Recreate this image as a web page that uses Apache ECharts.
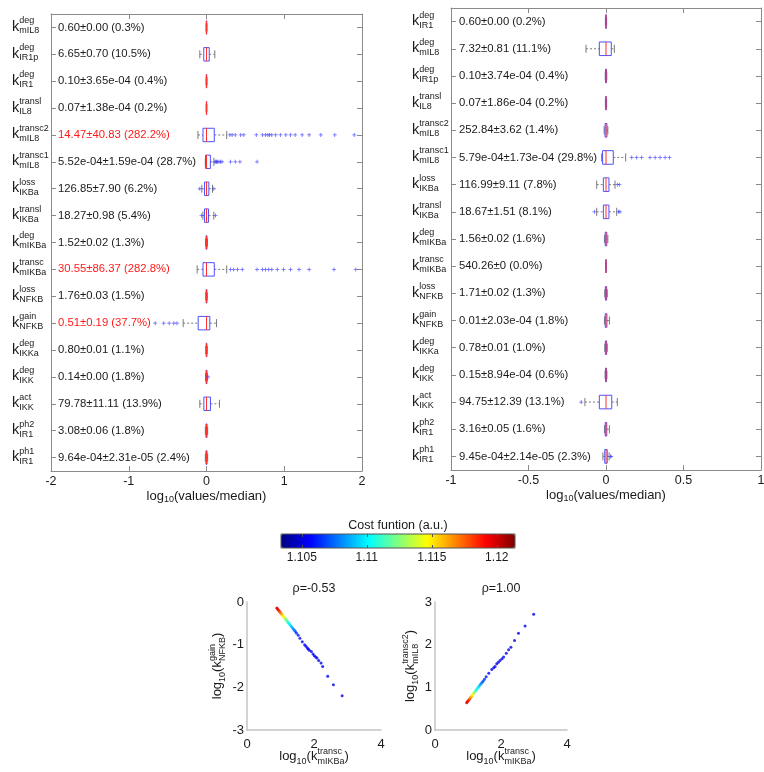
<!DOCTYPE html>
<html>
<head>
<meta charset="utf-8">
<script src="https://cdn.jsdelivr.net/npm/echarts@6/dist/echarts.min.js"></script>
<style>
  html, body { margin: 0; padding: 0; background: #fff; }
  #main { width: 764px; height: 772px; }
</style>
</head>
<body>
<div id="main"></div>
<script>
// ---------- left panel ----------
var supL = ['deg', 'deg', 'deg', 'transl', 'transc2', 'transc1', 'loss', 'transl', 'deg', 'transc', 'loss', 'gain', 'deg', 'deg', 'act', 'ph2', 'ph1'];
var subL = ['mIL8', 'IR1p', 'IR1', 'IL8', 'mIL8', 'mIL8', 'IKBa', 'IKBa', 'mIKBa', 'mIKBa', 'NFKB', 'NFKB', 'IKKa', 'IKK', 'IKK', 'IR1', 'IR1'];
var textL = ['0.60±0.00 (0.3%)', '6.65±0.70 (10.5%)', '0.10±3.65e-04 (0.4%)', '0.07±1.38e-04 (0.2%)',
  '14.47±40.83 (282.2%)', '5.52e-04±1.59e-04 (28.7%)', '126.85±7.90 (6.2%)', '18.27±0.98 (5.4%)',
  '1.52±0.02 (1.3%)', '30.55±86.37 (282.8%)', '1.76±0.03 (1.5%)', '0.51±0.19 (37.7%)',
  '0.80±0.01 (1.1%)', '0.14±0.00 (1.8%)', '79.78±11.11 (13.9%)', '3.08±0.06 (1.8%)', '9.64e-04±2.31e-05 (2.4%)'];
var redL = [4, 9, 11];
// lo, q1, median, q3, hi  (log10(values/median))
var boxL = [
  [-0.006, -0.003, 0, 0.003, 0.006],
  [-0.086, -0.035, 0, 0.035, 0.107],
  [-0.006, -0.003, 0, 0.003, 0.006],
  [-0.005, -0.002, 0, 0.002, 0.005],
  [-0.11, -0.045, 0, 0.10, 0.26],
  [-0.015, -0.012, 0, 0.05, 0.095],
  [-0.06, -0.026, 0, 0.03, 0.077],
  [-0.047, -0.026, 0, 0.026, 0.094],
  [-0.012, -0.006, 0, 0.006, 0.012],
  [-0.12, -0.045, 0, 0.10, 0.26],
  [-0.01, -0.005, 0, 0.005, 0.01],
  [-0.30, -0.107, 0, 0.043, 0.129],
  [-0.01, -0.005, 0, 0.005, 0.01],
  [-0.012, -0.006, 0, 0.006, 0.012],
  [-0.086, -0.034, 0, 0.051, 0.167],
  [-0.015, -0.007, 0, 0.007, 0.015],
  [-0.015, -0.007, 0, 0.007, 0.015]
];
var outL = [
  [4, [0.30, 0.33, 0.37, 0.44, 0.48, 0.64, 0.72, 0.76, 0.79, 0.81, 0.84, 0.89, 0.95, 1.02, 1.08, 1.14, 1.23, 1.32, 1.47, 1.65, 1.90]],
  [5, [0.11, 0.12, 0.13, 0.14, 0.16, 0.18, 0.20, 0.31, 0.37, 0.43, 0.65]],
  [6, [-0.086, 0.094]],
  [7, [-0.064, 0.116]],
  [9, [0.31, 0.35, 0.40, 0.46, 0.65, 0.72, 0.76, 0.80, 0.84, 0.91, 0.99, 1.08, 1.19, 1.32, 1.64, 1.92]],
  [11, [-0.66, -0.55, -0.48, -0.42, -0.38]],
  [13, [0.02]]
];

// ---------- right panel ----------
var supR = ['deg', 'deg', 'deg', 'transl', 'transc2', 'transc1', 'loss', 'transl', 'deg', 'transc', 'loss', 'gain', 'deg', 'deg', 'act', 'ph2', 'ph1'];
var subR = ['IR1', 'mIL8', 'IR1p', 'IL8', 'mIL8', 'mIL8', 'IKBa', 'IKBa', 'mIKBa', 'mIKBa', 'NFKB', 'NFKB', 'IKKa', 'IKK', 'IKK', 'IR1', 'IR1'];
var textR = ['0.60±0.00 (0.2%)', '7.32±0.81 (11.1%)', '0.10±3.74e-04 (0.4%)', '0.07±1.86e-04 (0.2%)',
  '252.84±3.62 (1.4%)', '5.79e-04±1.73e-04 (29.8%)', '116.99±9.11 (7.8%)', '18.67±1.51 (8.1%)',
  '1.56±0.02 (1.6%)', '540.26±0 (0.0%)', '1.71±0.02 (1.3%)', '0.01±2.03e-04 (1.8%)',
  '0.78±0.01 (1.0%)', '0.15±8.94e-04 (0.6%)', '94.75±12.39 (13.1%)', '3.16±0.05 (1.6%)', '9.45e-04±2.14e-05 (2.3%)'];
var redR = [];
var boxR = [
  [-0.004, -0.002, 0, 0.002, 0.004],
  [-0.129, -0.043, 0, 0.034, 0.054],
  [-0.005, -0.003, 0, 0.003, 0.005],
  [-0.004, -0.002, 0, 0.002, 0.004],
  [-0.012, -0.006, 0, 0.006, 0.012],
  [-0.028, -0.022, 0, 0.047, 0.127],
  [-0.06, -0.017, 0, 0.019, 0.058],
  [-0.06, -0.017, 0, 0.019, 0.069],
  [-0.01, -0.005, 0, 0.005, 0.012],
  [0, 0, 0, 0, 0],
  [-0.008, -0.004, 0, 0.004, 0.008],
  [-0.01, -0.005, 0, 0.006, 0.022],
  [-0.008, -0.004, 0, 0.004, 0.008],
  [-0.006, -0.003, 0, 0.003, 0.006],
  [-0.136, -0.043, 0, 0.037, 0.073],
  [-0.01, -0.005, 0, 0.005, 0.022],
  [-0.02, -0.008, 0, 0.008, 0.02]
];
var outR = [
  [5, [0.166, 0.198, 0.23, 0.284, 0.317, 0.349, 0.381, 0.41]],
  [6, [0.073, 0.086]],
  [7, [-0.075, 0.08, 0.09]],
  [14, [-0.16]],
  [16, [0.028, 0.033]]
];

// ---------- correlation scatters ----------
var gainX = [0.89, 0.91, 0.93, 0.95, 0.97, 0.99, 1.01, 1.03, 1.05, 1.07, 1.09, 1.11, 1.13, 1.15, 1.17, 1.19, 1.21, 1.23, 1.25, 1.27, 1.30, 1.33, 1.36, 1.39, 1.42, 1.45, 1.48, 1.53, 1.58,
  1.65, 1.72, 1.76, 1.80, 1.83, 1.86, 1.92, 1.97, 2.01, 2.05, 2.09, 2.14, 2.21, 2.26, 2.41, 2.58, 2.84];
var gainY = [-0.14, -0.16, -0.18, -0.20, -0.22, -0.24, -0.26, -0.28, -0.30, -0.32, -0.34, -0.36, -0.38, -0.40, -0.42, -0.44, -0.46, -0.48, -0.50, -0.52, -0.55, -0.58, -0.61, -0.64, -0.67, -0.70, -0.73, -0.78, -0.85,
  -0.93, -1.00, -1.04, -1.08, -1.10, -1.13, -1.16, -1.22, -1.26, -1.29, -1.31, -1.37, -1.43, -1.51, -1.74, -1.94, -2.20];
var gainCost = [1.1200, 1.1197, 1.1193, 1.1188, 1.1183, 1.1177, 1.1171, 1.1165, 1.1159, 1.1153, 1.1147, 1.1141, 1.1135, 1.1129, 1.1123, 1.1118, 1.1113, 1.1108, 1.1104, 1.1100, 1.1095, 1.1090, 1.1085, 1.1080, 1.1075, 1.1070, 1.1066, 1.1062, 1.1058,
  1.1056, 1.1055, 1.1056, 1.1054, 1.1055, 1.1053, 1.1054, 1.1055, 1.1053, 1.1054, 1.1053, 1.1052, 1.1054, 1.1053, 1.1052, 1.1053, 1.1052];

var t2X = [0.96, 0.98, 1.00, 1.02, 1.04, 1.06, 1.08, 1.10, 1.12, 1.14, 1.16, 1.18, 1.20, 1.22, 1.24, 1.26, 1.28, 1.31, 1.34, 1.37, 1.40, 1.43, 1.46, 1.50, 1.55,
  1.63, 1.72, 1.78, 1.82, 1.87, 1.92, 1.97, 2.03, 2.08, 2.16, 2.23, 2.30, 2.41, 2.53, 2.73, 2.99];
var t2Y = [0.64, 0.66, 0.68, 0.70, 0.72, 0.74, 0.76, 0.78, 0.80, 0.83, 0.85, 0.87, 0.89, 0.91, 0.93, 0.95, 0.97, 1.00, 1.03, 1.06, 1.09, 1.12, 1.15, 1.19, 1.25,
  1.33, 1.42, 1.46, 1.49, 1.55, 1.59, 1.63, 1.67, 1.71, 1.80, 1.88, 1.94, 2.10, 2.27, 2.44, 2.71];
var t2Cost = [1.1200, 1.1196, 1.1192, 1.1187, 1.1181, 1.1175, 1.1168, 1.1161, 1.1154, 1.1147, 1.1140, 1.1133, 1.1126, 1.1120, 1.1114, 1.1108, 1.1103, 1.1098, 1.1092, 1.1086, 1.1080, 1.1075, 1.1070, 1.1064, 1.1059,
  1.1056, 1.1055, 1.1054, 1.1055, 1.1053, 1.1054, 1.1053, 1.1054, 1.1052, 1.1053, 1.1052, 1.1053, 1.1052, 1.1052, 1.1053, 1.1052];

var costMin = 1.1034, costMax = 1.1214;
var costTicks = [1.105, 1.11, 1.115, 1.12];
var jet = ['#000080', '#0000ff', '#0080ff', '#00ffff', '#80ff80', '#ffff00', '#ff8000', '#ff0000', '#800000'];

var FONT = 'Liberation Sans, Arial, sans-serif';
var INK = '#1a1a1a';
var CLEAR = 'rgba(0,0,0,0)';
var BOXLINE = '#8a8a8a';

function zip3(a, b, c) { return a.map(function (v, i) { return [v, b[i], c[i]]; }); }
function boxData(b) { return b.map(function (r, i) { return [i].concat(r); }); }
function outData(o) {
  var pts = [];
  o.forEach(function (e) { e[1].forEach(function (v) { pts.push([v, e[0]]); }); });
  return pts;
}

function renderBox(params, api) {
  var row = api.value(0);
  var lo = api.coord([api.value(1), row]);
  var q1 = api.coord([api.value(2), row]);
  var md = api.coord([api.value(3), row]);
  var q3 = api.coord([api.value(4), row]);
  var hi = api.coord([api.value(5), row]);
  var band = api.size([0, 1])[1];
  var y = md[1], h = band * 0.5, c = band * 0.3;
  var dash = { stroke: '#7a7a7a', lineWidth: 1, lineDash: [2, 2] };
  var solid = { stroke: '#7a7a7a', lineWidth: 1 };
  return {
    type: 'group',
    children: [
      { type: 'line', shape: { x1: lo[0], y1: y, x2: q1[0], y2: y }, style: dash },
      { type: 'line', shape: { x1: q3[0], y1: y, x2: hi[0], y2: y }, style: dash },
      { type: 'line', shape: { x1: lo[0], y1: y - c / 2, x2: lo[0], y2: y + c / 2 }, style: solid },
      { type: 'line', shape: { x1: hi[0], y1: y - c / 2, x2: hi[0], y2: y + c / 2 }, style: solid },
      { type: 'rect', shape: { x: q1[0], y: y - h / 2, width: q3[0] - q1[0], height: h },
        style: { fill: 'none', stroke: '#5050ff', lineWidth: 1 } },
      { type: 'line', shape: { x1: md[0], y1: y - h / 2, x2: md[0], y2: y + h / 2 },
        style: { stroke: '#ff3030', lineWidth: 1 } }
    ]
  };
}

// k with stacked super/subscript, three short lines, left aligned
var kRich = {
  g:   { fontFamily: FONT, fontSize: 14.5, color: CLEAR, lineHeight: 1, align: 'left', verticalAlign: 'middle' },
  sup: { fontFamily: FONT, fontSize: 9, color: INK, lineHeight: 8, align: 'left', verticalAlign: 'middle' },
  k:   { fontFamily: FONT, fontSize: 14.5, color: INK, lineHeight: 4, align: 'left', verticalAlign: 'middle' },
  sub: { fontFamily: FONT, fontSize: 9, color: INK, lineHeight: 4, align: 'left', verticalAlign: 'middle' }
};
function kLabel(sup, sub) {
  return function (v, i) {
    return '{g|k}{sup|' + sup[i] + '}\n{k|k}\n{g|k}{sub|' + sub[i] + '}';
  };
}
function valLabel(txt, red) {
  return function (v, i) {
    return red.indexOf(i) >= 0 ? '{r|' + txt[i] + '}' : txt[i];
  };
}

// axis title like log10(k^sup_sub)
var nameRich = {
  a:  { fontFamily: FONT, fontSize: 13, color: INK, lineHeight: 6, align: 'left', verticalAlign: 'middle' },
  ta: { fontFamily: FONT, fontSize: 13, color: CLEAR, lineHeight: 1, align: 'left', verticalAlign: 'middle' },
  ts: { fontFamily: FONT, fontSize: 9, color: CLEAR, lineHeight: 1, align: 'left', verticalAlign: 'middle' },
  sup: { fontFamily: FONT, fontSize: 9, color: INK, lineHeight: 3, align: 'left', verticalAlign: 'middle' },
  s:  { fontFamily: FONT, fontSize: 9, color: INK, lineHeight: 5, align: 'left', verticalAlign: 'middle' }
};
function kName(sup, sub, longest) {
  return '{ta|log}{ts|10}{ta|(k}{sup|' + sup + '}\n' +
    '{a|log}{ts|10}{a|(k}{ts|' + longest + '}{a|)}\n' +
    '{ta|log}{s|10}{ta|(k}{s|' + sub + '}';
}
var medName = '{a|log}{s|10}{a|(values/median)}';
var medRich = {
  a: { fontFamily: FONT, fontSize: 13, color: INK, lineHeight: 16, align: 'left', verticalAlign: 'middle' },
  s: { fontFamily: FONT, fontSize: 9, color: INK, lineHeight: 6, align: 'left', verticalAlign: 'bottom' }
};

var boxLine = { show: true, onZero: false, lineStyle: { color: BOXLINE } };
var boxTick = { show: true, inside: true, length: 5, lineStyle: { color: BOXLINE } };

function boxX(grid, min, max, step, name) {
  return [{
    gridIndex: grid, type: 'value', position: 'bottom', min: min, max: max, interval: step,
    axisLine: boxLine, axisTick: boxTick,
    axisLabel: { fontFamily: FONT, fontSize: 12.5, color: INK, margin: 4 },
    splitLine: { show: false },
    name: name, nameLocation: 'middle', nameGap: 17, nameMoveOverlap: false,
    nameTextStyle: { rich: medRich }
  }, {
    gridIndex: grid, type: 'value', position: 'top', min: min, max: max, interval: step,
    axisLine: boxLine, axisTick: boxTick,
    axisLabel: { show: false }, splitLine: { show: false }
  }];
}
function boxY(grid, n, sup, sub, txt, red) {
  var cats = sup.map(function (s, i) { return String(i); });
  var ytick = { show: true, inside: true, length: 5, alignWithLabel: true, interval: 0, lineStyle: { color: BOXLINE } };
  return [{
    gridIndex: grid, type: 'category', data: cats, inverse: true, position: 'left',
    axisLine: boxLine, axisTick: ytick,
    axisLabel: { interval: 0, align: 'left', margin: 39, padding: [0, 0, 5, 0], formatter: kLabel(sup, sub), rich: kRich }
  }, {
    gridIndex: grid, type: 'category', data: cats, inverse: true, position: 'right',
    axisLine: boxLine, axisTick: ytick,
    axisLabel: { show: false }
  }, {
    gridIndex: grid, type: 'category', data: cats, inverse: true, position: 'left',
    axisLine: { show: false, onZero: false }, axisTick: { show: false },
    axisLabel: { inside: true, interval: 0, margin: n, fontFamily: FONT, fontSize: 11.3, color: INK,
      formatter: valLabel(txt, red),
      rich: { r: { fontFamily: FONT, fontSize: 11.3, color: '#ff1a1a' } } }
  }];
}

var scatAxis = { show: true, onZero: false, lineStyle: { color: '#c4c4c4', width: 1.5 } };

var option = {
  animation: false,
  backgroundColor: '#fff',
  grid: [
    { left: 51, top: 14, width: 311, height: 457, outerBoundsMode: 'none' },
    { left: 451, top: 8, width: 310, height: 462, outerBoundsMode: 'none' },
    { left: 281, top: 534, width: 234, height: 14, show: true, borderColor: '#555', borderWidth: 1,
      backgroundColor: 'transparent', z: 10, outerBoundsMode: 'none' },
    { left: 247, top: 602, width: 134, height: 128, outerBoundsMode: 'none' },
    { left: 435, top: 602, width: 132, height: 128, outerBoundsMode: 'none' }
  ],
  xAxis: [].concat(
    boxX(0, -2, 2, 1, medName),          // 0, 1
    boxX(1, -1, 1, 0.5, medName),        // 2, 3
    [{                                   // 4 colorbar bottom
      gridIndex: 2, type: 'value', min: costMin, max: costMax, position: 'bottom', z: 10,
      axisLine: { show: false, onZero: false },
      axisTick: { show: true, inside: true, length: 3, customValues: costTicks, lineStyle: { color: '#555' } },
      axisLabel: { customValues: costTicks, fontFamily: FONT, fontSize: 12, color: INK, margin: 4 },
      splitLine: { show: false }
    }, {                                 // 5 colorbar top
      gridIndex: 2, type: 'value', min: costMin, max: costMax, position: 'top', z: 10,
      axisLine: { show: false, onZero: false },
      axisTick: { show: true, inside: true, length: 3, customValues: costTicks, lineStyle: { color: '#555' } },
      axisLabel: { show: false }, splitLine: { show: false },
      name: 'Cost funtion (a.u.)', nameLocation: 'middle', nameGap: 1, nameMoveOverlap: false,
      nameTextStyle: { fontFamily: FONT, fontSize: 12.5, color: INK, lineHeight: 14 }
    }, {                                 // 6 scatter left
      gridIndex: 3, type: 'value', min: 0, max: 4, interval: 2,
      axisLine: scatAxis, axisTick: { show: false }, splitLine: { show: false },
      axisLabel: { fontFamily: FONT, fontSize: 13, color: INK, margin: 8 },
      name: kName('transc', 'mIKBa', 'mIKBa'), nameLocation: 'middle', nameGap: 20, nameMoveOverlap: false,
      nameTextStyle: { align: 'center', rich: nameRich }
    }, {                                 // 7 title left
      gridIndex: 3, type: 'value', min: 0, max: 4, position: 'top',
      axisLine: { show: false, onZero: false }, axisTick: { show: false }, axisLabel: { show: false }, splitLine: { show: false },
      name: 'ρ=-0.53', nameLocation: 'middle', nameGap: 7, nameMoveOverlap: false,
      nameTextStyle: { fontFamily: FONT, fontSize: 12.5, color: INK }
    }, {                                 // 8 scatter right
      gridIndex: 4, type: 'value', min: 0, max: 4, interval: 2,
      axisLine: scatAxis, axisTick: { show: false }, splitLine: { show: false },
      axisLabel: { fontFamily: FONT, fontSize: 13, color: INK, margin: 8 },
      name: kName('transc', 'mIKBa', 'mIKBa'), nameLocation: 'middle', nameGap: 20, nameMoveOverlap: false,
      nameTextStyle: { align: 'center', rich: nameRich }
    }, {                                 // 9 title right
      gridIndex: 4, type: 'value', min: 0, max: 4, position: 'top',
      axisLine: { show: false, onZero: false }, axisTick: { show: false }, axisLabel: { show: false }, splitLine: { show: false },
      name: 'ρ=1.00', nameLocation: 'middle', nameGap: 7, nameMoveOverlap: false,
      nameTextStyle: { fontFamily: FONT, fontSize: 12.5, color: INK }
    }]
  ),
  yAxis: [].concat(
    boxY(0, 7, supL, subL, textL, redL), // 0, 1, 2
    boxY(1, 8, supR, subR, textR, redR), // 3, 4, 5
    [{                                   // 6 colorbar
      gridIndex: 2, type: 'value', min: 0, max: 1, show: false
    }, {                                 // 7 scatter left
      gridIndex: 3, type: 'value', min: -3, max: 0, interval: 1,
      axisLine: scatAxis, axisTick: { show: false }, splitLine: { show: false },
      axisLabel: { fontFamily: FONT, fontSize: 13, color: INK, margin: 3 },
      name: kName('gain', 'NFKB', 'NFKB'), nameLocation: 'middle', nameRotate: 90, nameGap: 22, nameMoveOverlap: false,
      nameTextStyle: { align: 'center', rich: nameRich }
    }, {                                 // 8 scatter right
      gridIndex: 4, type: 'value', min: 0, max: 3, interval: 1,
      axisLine: scatAxis, axisTick: { show: false }, splitLine: { show: false },
      axisLabel: { fontFamily: FONT, fontSize: 13, color: INK, margin: 3 },
      name: kName('transc2', 'mIL8', 'transc2'), nameLocation: 'middle', nameRotate: 90, nameGap: 17, nameMoveOverlap: false,
      nameTextStyle: { align: 'center', rich: nameRich }
    }]
  ),
  visualMap: {
    type: 'continuous', min: costMin, max: costMax, dimension: 2, seriesIndex: [4, 5],
    orient: 'horizontal', left: 281, top: 534, itemWidth: 14, itemHeight: 234, padding: 0,
    calculable: false, realtime: false, text: null, hoverLink: false,
    inRange: { color: jet }
  },
  series: [
    { type: 'custom', xAxisIndex: 0, yAxisIndex: 0, renderItem: renderBox, data: boxData(boxL),
      encode: { x: [1, 2, 3, 4, 5], y: 0 }, z: 3 },
    { type: 'scatter', xAxisIndex: 0, yAxisIndex: 0, data: outData(outL), symbol: 'path://M0,4H10V6H0ZM4,0H6V10H4Z',
      symbolSize: 4, itemStyle: { color: '#3c3cff' }, z: 4 },
    { type: 'custom', xAxisIndex: 2, yAxisIndex: 3, renderItem: renderBox, data: boxData(boxR),
      encode: { x: [1, 2, 3, 4, 5], y: 0 }, z: 3 },
    { type: 'scatter', xAxisIndex: 2, yAxisIndex: 3, data: outData(outR), symbol: 'path://M0,4H10V6H0ZM4,0H6V10H4Z',
      symbolSize: 4, itemStyle: { color: '#3c3cff' }, z: 4 },
    { type: 'scatter', xAxisIndex: 6, yAxisIndex: 7, data: zip3(gainX, gainY, gainCost), symbolSize: 3 },
    { type: 'scatter', xAxisIndex: 8, yAxisIndex: 8, data: zip3(t2X, t2Y, t2Cost), symbolSize: 3 }
  ]
};

var chart = echarts.init(document.getElementById('main'), null, { renderer: 'canvas' });
chart.setOption(option);
</script>
</body>
</html>
